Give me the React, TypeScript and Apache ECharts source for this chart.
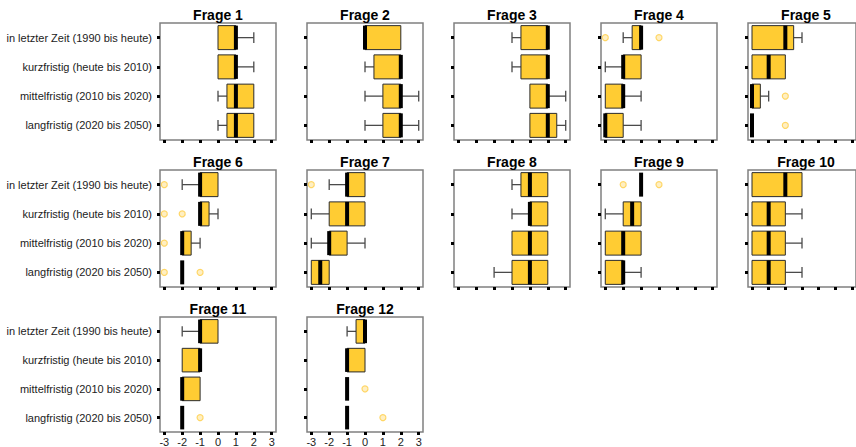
import React, { useEffect, useRef } from 'react';
import * as echarts from 'echarts';

const categories = [
  'in letzter Zeit (1990 bis heute)',
  'kurzfristig (heute bis 2010)',
  'mittelfristig (2010 bis 2020)',
  'langfristig (2020 bis 2050)',
];

const xTicks = [-3, -2, -1, 0, 1, 2, 3];

const questionTitles = [
  'Frage 1', 'Frage 2', 'Frage 3', 'Frage 4', 'Frage 5', 'Frage 6',
  'Frage 7', 'Frage 8', 'Frage 9', 'Frage 10', 'Frage 11', 'Frage 12',
];

// Box statistics per time horizon: [lower whisker, Q1, median, Q3, upper whisker]
const frage1 = [[0, 0, 1, 1, 2], [0, 0, 1, 1, 2], [0, 0.5, 1, 2, 2], [0, 0.5, 1, 2, 2]];
const frage2 = [[0, 0, 0, 2, 2], [0, 0.5, 2, 2, 2], [0, 1, 2, 2, 3], [0, 1, 2, 2, 3]];
const frage3 = [[0, 0.5, 2, 2, 2], [0, 0.5, 2, 2, 2], [1, 1, 2, 2, 3], [1, 1, 2, 2.5, 3]];
const frage4 = [[-2, -1.5, -1, -1, -1], [-3, -2, -2, -1, -1], [-3, -3, -2, -2, -1], [-3, -3, -3, -2, -1]];
const frage5 = [[-3, -3, -1, -0.5, 0], [-3, -3, -2, -1, -1], [-3, -3, -3, -2.5, -2], [-3, -3, -3, -3, -3]];
const frage6 = [[-2, -1, -1, 0, 0], [-1, -1, -1, -0.5, 0], [-2, -2, -2, -1.5, -1], [-2, -2, -2, -2, -2]];
const frage7 = [[-2, -1, -1, 0, 0], [-3, -2, -1, 0, 0], [-3, -2, -2, -1, 0], [-3, -3, -2.5, -2, -2]];
const frage8 = [[0, 0.5, 1, 2, 2], [0, 1, 1, 2, 2], [0, 0, 1, 2, 2], [-1, 0, 1, 2, 2]];
const frage9 = [[-1, -1, -1, -1, -1], [-3, -2, -1.5, -1, -1], [-3, -3, -2, -1, -1], [-3, -3, -2, -2, -1]];
const frage10 = [[-3, -3, -1, 0, 0], [-3, -3, -2, -1, 0], [-3, -3, -2, -1, 0], [-3, -3, -2, -1, 0]];
const frage11 = [[-2, -1, -1, 0, 0], [-2, -2, -1, -1, -1], [-2, -2, -2, -1, -1], [-2, -2, -2, -2, -2]];
const frage12 = [[-1, -0.5, 0, 0, 0], [-1, -1, -1, 0, 0], [-1, -1, -1, -1, -1], [-1, -1, -1, -1, -1]];

// Outliers per question: [time horizon index, value]
const ausreisser1: number[][] = [];
const ausreisser2: number[][] = [];
const ausreisser3: number[][] = [];
const ausreisser4 = [[0, -3], [0, 0]];
const ausreisser5 = [[2, -1], [3, -1]];
const ausreisser6 = [[0, -3], [1, -3], [1, -2], [2, -3], [3, -3], [3, -1]];
const ausreisser7 = [[0, -3]];
const ausreisser8: number[][] = [];
const ausreisser9 = [[0, -2], [0, 0]];
const ausreisser10: number[][] = [];
const ausreisser11 = [[3, -1]];
const ausreisser12 = [[2, 0], [3, 1]];

const boxSets = [frage1, frage2, frage3, frage4, frage5, frage6, frage7, frage8, frage9, frage10, frage11, frage12];
const outlierSets = [
  ausreisser1, ausreisser2, ausreisser3, ausreisser4, ausreisser5, ausreisser6,
  ausreisser7, ausreisser8, ausreisser9, ausreisser10, ausreisser11, ausreisser12,
];

// Panel layout
const COLS = 5;
const colLeft = [160, 307, 454, 601, 748];
const rowTop = [23, 170, 317];
const titleY = [14.5, 161.5, 309];
const PANEL_W = 116;
const PANEL_H = 117;
const FONT = '"Liberation Sans", Arial, Helvetica, sans-serif';

const renderBox = (params: any, api: any) => {
  const k = api.value(0);
  const lo = api.value(1);
  const q1 = api.value(2);
  const med = api.value(3);
  const q3 = api.value(4);
  const hi = api.value(5);
  const sz = api.size ? api.size([0, 1]) : null;
  const band = sz && sz[1] ? sz[1] : PANEL_H / 4;
  const h = band * 0.82;
  const capH = h * 0.44;
  const cy = api.coord([med, k])[1];
  const px = (v: number) => api.coord([v, k])[0];
  const whiskerStyle = { stroke: '#4a4a4a', lineWidth: 1.3 };
  const children: any[] = [];

  if (lo < q1) {
    children.push({ type: 'line', shape: { x1: px(lo), y1: cy, x2: px(q1), y2: cy }, style: whiskerStyle });
    children.push({ type: 'line', shape: { x1: px(lo), y1: cy - capH / 2, x2: px(lo), y2: cy + capH / 2 }, style: whiskerStyle });
  }
  if (hi > q3) {
    children.push({ type: 'line', shape: { x1: px(q3), y1: cy, x2: px(hi), y2: cy }, style: whiskerStyle });
    children.push({ type: 'line', shape: { x1: px(hi), y1: cy - capH / 2, x2: px(hi), y2: cy + capH / 2 }, style: whiskerStyle });
  }
  if (q3 > q1) {
    children.push({
      type: 'rect',
      shape: { x: px(q1), y: cy - h / 2, width: px(q3) - px(q1), height: h },
      style: { fill: '#FFCC33', stroke: '#2b2b2b', lineWidth: 1 },
    });
  }
  children.push({
    type: 'rect',
    shape: { x: px(med) - 2, y: cy - h / 2, width: 4, height: h },
    style: { fill: '#000000' },
  });
  return { type: 'group', children };
};

export default function App() {
  const ref = useRef<HTMLDivElement>(null);

  useEffect(() => {
    if (!ref.current) return;
    const chart = echarts.init(ref.current, null, { renderer: 'svg' });

    const grids = boxSets.map((_, i) => ({
      left: colLeft[i % COLS],
      top: rowTop[Math.floor(i / COLS)],
      width: PANEL_W,
      height: PANEL_H,
      show: true,
      borderColor: '#808080',
      borderWidth: 1.5,
      backgroundColor: 'transparent',
    }));

    const xAxes = boxSets.map((_, i) => ({
      type: 'value',
      gridIndex: i,
      min: -3.24,
      max: 3.24,
      splitLine: { show: false },
      axisLine: { show: false, onZero: false },
      axisTick: {
        show: true,
        customValues: xTicks,
        length: 3,
        lineStyle: { color: '#000', width: 3 },
      },
      axisLabel: {
        show: i >= 10,
        customValues: xTicks,
        margin: 4,
        fontSize: 11,
        color: '#222',
        fontFamily: FONT,
      },
    }));

    const yAxes = boxSets.map((_, i) => ({
      type: 'category',
      gridIndex: i,
      position: 'left',
      data: categories,
      inverse: true,
      splitLine: { show: false },
      axisLine: { show: false, onZero: false },
      axisTick: {
        show: true,
        alignWithLabel: true,
        interval: 0,
        length: 3,
        lineStyle: { color: '#000', width: 3 },
      },
      axisLabel: {
        show: i % COLS === 0,
        interval: 0,
        margin: 8,
        fontSize: 11,
        color: '#222',
        fontFamily: FONT,
      },
    }));

    const series: any[] = [];
    boxSets.forEach((set, i) => {
      series.push({
        type: 'custom',
        xAxisIndex: i,
        yAxisIndex: i,
        renderItem: renderBox,
        encode: { x: [1, 2, 3, 4, 5], y: 0 },
        data: set.map((s, k) => [k, ...s]),
        z: 2,
      });
      series.push({
        type: 'scatter',
        xAxisIndex: i,
        yAxisIndex: i,
        symbol: 'circle',
        symbolSize: 6,
        itemStyle: { color: '#FFEFC2', borderColor: '#FFD665', borderWidth: 1.2, opacity: 1 },
        data: outlierSets[i].map(([k, v]) => [v, k]),
        z: 3,
      });
    });

    const titles = questionTitles.map((t, i) => ({
      type: 'text',
      x: colLeft[i % COLS] + PANEL_W / 2,
      y: titleY[Math.floor(i / COLS)],
      style: {
        text: t,
        font: `bold 14px ${FONT}`,
        fill: '#000',
        align: 'center',
        verticalAlign: 'middle',
      },
    }));

    chart.setOption({
      animation: false,
      backgroundColor: '#ffffff',
      grid: grids,
      xAxis: xAxes,
      yAxis: yAxes,
      series,
      graphic: titles,
    });

    return () => chart.dispose();
  }, []);

  return (
    <div
      ref={ref}
      style={{ position: 'fixed', left: 0, top: 0, width: 856, height: 447 }}
    />
  );
}
